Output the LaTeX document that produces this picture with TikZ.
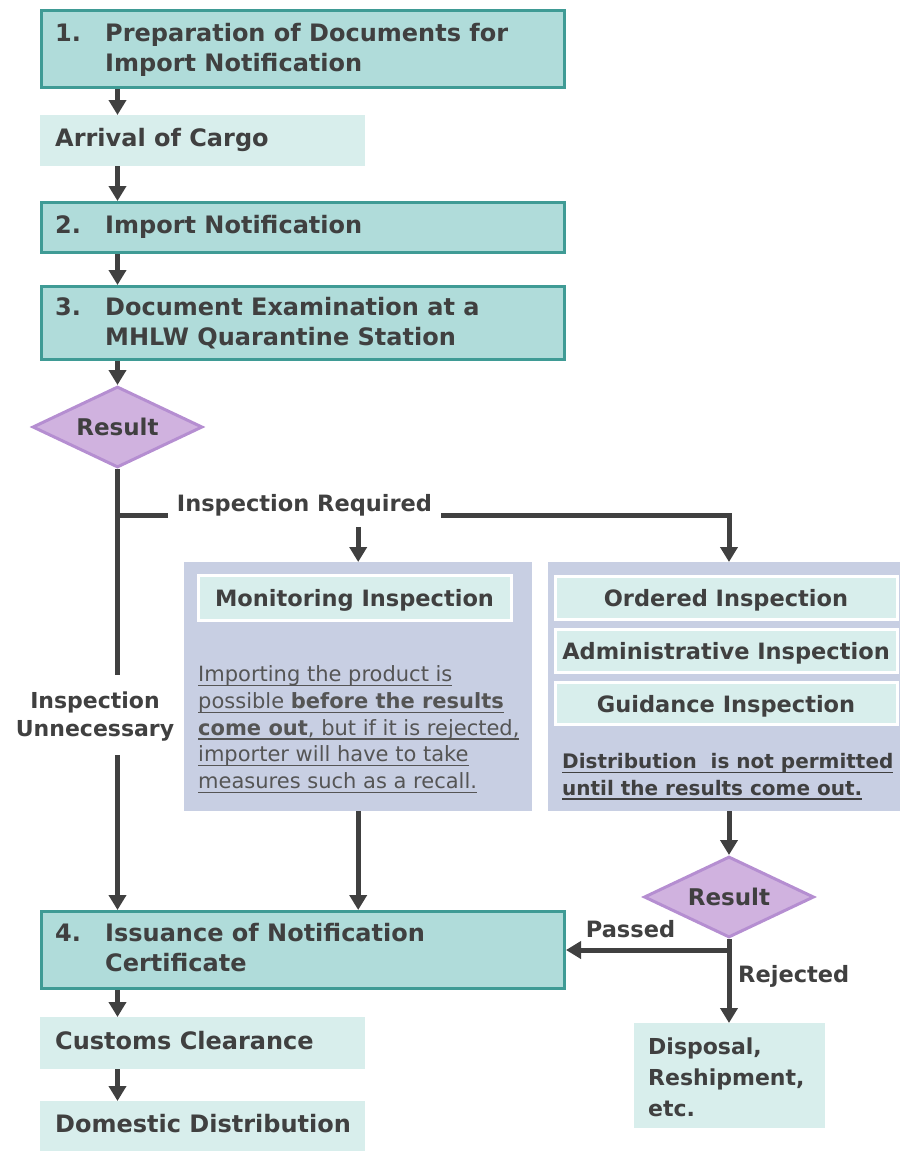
\documentclass[tikz,border=0pt]{standalone}
\usepackage{fontspec}
\setmainfont{DejaVu Sans}
\usetikzlibrary{shapes.geometric,arrows.meta,calc}
\newsavebox{\ulinebox}
\newcommand{\myul}[1]{\sbox{\ulinebox}{#1}\leavevmode\rlap{\rule[-4.5pt]{\wd\ulinebox}{1.1pt}}\usebox{\ulinebox}}
\definecolor{txt}{HTML}{404040}
\definecolor{paratxt}{HTML}{555555}
\definecolor{tealfill}{HTML}{B0DCDA}
\definecolor{tealline}{HTML}{3F9B95}
\definecolor{lightfill}{HTML}{D8EEEC}
\definecolor{panelfill}{HTML}{C8CFE3}
\definecolor{purfill}{HTML}{D0B2DF}
\definecolor{purline}{HTML}{B58ED1}
\tikzset{
  mainbox/.style={draw=tealline, line width=3pt, fill=tealfill, anchor=north west, inner sep=0pt},
  mtext/.style={anchor=base west, inner sep=0pt, text=txt, font=\bfseries\fontsize{24}{30}\selectfont},
  lightbox/.style={fill=lightfill, anchor=north west, inner xsep=15pt, inner ysep=0pt,
    text height=17pt, text depth=5pt, text=txt, font=\bfseries\fontsize{24}{30}\selectfont},
  panel/.style={fill=panelfill, anchor=north west, inner sep=0pt},
  innerbox/.style={draw=white, line width=3pt, fill=lightfill, inner sep=0pt,
    text height=20pt, text depth=2pt, text=txt, font=\bfseries\fontsize{22.5}{27}\selectfont},
  decision/.style={diamond, aspect=2.1, draw=purline, line width=3pt, fill=purfill, inner sep=0pt,
    minimum width=170pt, minimum height=81pt, text height=18pt, text depth=2pt,
    text=txt, font=\bfseries\fontsize{23}{27}\selectfont},
  lbl/.style={inner sep=0pt, text=txt, font=\bfseries\fontsize{22.5}{28}\selectfont},
  arr/.style={draw=txt, line width=5pt, -{Triangle[length=15pt,width=17pt]}},
  ln/.style={draw=txt, line width=5pt},
}
\begin{document}
\begin{tikzpicture}[x=1pt,y=-1pt]
\useasboundingbox (0,0) rectangle (900,1151);

% main boxes
\node[mainbox, minimum width=523pt, minimum height=77pt] (b1) at (40,9) {};
\node[mtext] (b1t) at (55,41.7) {\begin{tabular}[t]{@{}p{50pt}@{}l@{}}1.&Preparation of Documents for\\&Import Notification\end{tabular}};

\node[lightbox, minimum width=325pt, minimum height=51pt] (cargo) at (40,115) {\makebox[295pt][l]{Arrival of Cargo}};

\node[mainbox, minimum width=523pt, minimum height=50pt] (b2) at (40,201) {};
\node[mtext] (b2t) at (55,233.3) {\begin{tabular}[t]{@{}p{50pt}@{}l@{}}2.&Import Notification\end{tabular}};

\node[mainbox, minimum width=523pt, minimum height=73pt] (b3) at (40,285) {};
\node[mtext] (b3t) at (55,315.5) {\begin{tabular}[t]{@{}p{50pt}@{}l@{}}3.&Document Examination at a\\&MHLW Quarantine Station\end{tabular}};

\node[decision] (d1) at (117.5,427) {Result};

% panels
\node[panel, minimum width=348pt, minimum height=249pt] (p1) at (184,562) {};
\node[innerbox, minimum width=313pt, minimum height=45pt] (mon) at (354.5,597.5) {Monitoring Inspection};
\node[anchor=base west, inner sep=0pt, text=paratxt, font=\fontsize{21}{26.67}\selectfont] (para) at (198,681.7)
  {\begin{tabular}[t]{@{}l@{}}\myul{Importing the product is}\\
   \myul{possible\ \textbf{before the results}}\\
   \myul{\textbf{come out}, but if it is rejected,}\\
   \myul{importer will have to take}\\
   \myul{measures such as a recall.}\end{tabular}};

\node[panel, minimum width=352pt, minimum height=249pt] (p2) at (548,562) {};
\node[innerbox, minimum width=342pt, minimum height=43pt] (ord) at (726,597.5) {Ordered Inspection};
\node[innerbox, minimum width=342pt, minimum height=43pt] (adm) at (726,650.5) {Administrative Inspection};
\node[innerbox, minimum width=342pt, minimum height=42pt] (gui) at (726,703) {Guidance Inspection};
\node[anchor=base west, inner sep=0pt, text=txt, font=\bfseries\fontsize{20}{26.7}\selectfont] (dist) at (562,768.3)
  {\begin{tabular}[t]{@{}l@{}}\myul{Distribution\ \ is not permitted}\\
   \myul{until the results come out.}\end{tabular}};

\node[decision] (d2) at (729,897) {Result};

\node[mainbox, minimum width=523pt, minimum height=77pt] (b4) at (40,910) {};
\node[mtext] (b4t) at (55,941.7) {\begin{tabular}[t]{@{}p{50pt}@{}l@{}}4.&Issuance of Notification\\&Certificate\end{tabular}};

\node[lightbox, minimum width=325pt, minimum height=52pt] (cust) at (40,1017) {\makebox[295pt][l]{Customs Clearance}};
\node[lightbox, minimum width=325pt, minimum height=50pt] (dom) at (40,1101) {\makebox[295pt][l]{Domestic Distribution}};

\node[fill=lightfill, anchor=north west, inner sep=0pt, minimum width=191pt, minimum height=105pt] (disp) at (634,1023) {};
\node[anchor=base west, inner sep=0pt, text=txt, font=\bfseries\fontsize{22}{31}\selectfont] (dispt) at (648,1054)
  {\begin{tabular}[t]{@{}l@{}}Disposal,\\Reshipment,\\etc.\end{tabular}};

% labels
\node[lbl, anchor=base, inner xsep=9pt, text height=17pt, text depth=15pt] (req) at (304.5,511.7) {Inspection Required};
\node[lbl, anchor=base, font=\bfseries\fontsize{22}{28}\selectfont] (unn) at (95,708) {\begin{tabular}[t]{@{}c@{}}Inspection\\Unnecessary\end{tabular}};
\node[lbl, anchor=base] (pas) at (630.5,937) {Passed};
\node[lbl, anchor=base west] (rej) at (738,982) {Rejected};

\coordinate (jn) at (117.5,515);
\coordinate (gapA) at (117.5,675);
\coordinate (gapB) at (117.5,755);

% connectors
\draw[arr] (b1.south -| d1) -- (cargo.north -| d1);
\draw[arr] (cargo.south -| d1) -- (b2.north -| d1);
\draw[arr] (b2.south -| d1) -- (b3.north -| d1);
\draw[arr] (b3.south -| d1) -- (d1.north);
\draw[ln] (d1.south) -- (gapA);
\draw[arr] (gapB) -- (b4.north -| d1);
\draw[ln] (jn) -- (req.west |- jn);
\draw[arr] (req.east |- jn) -| (p2.north -| d2);
\draw[arr] (req.south -| p1) -- (p1.north);
\draw[arr] (p1.south) -- (p1.south |- b4.north);
\draw[arr] (p2.south -| d2) -- (d2.north);
\draw[arr] (d2.south) |- (b4.east);
\draw[arr] (d2 |- b4.east) -- (disp.north -| d2);
\draw[arr] (b4.south -| d1) -- (cust.north -| d1);
\draw[arr] (cust.south -| d1) -- (dom.north -| d1);
\end{tikzpicture}
\end{document}
